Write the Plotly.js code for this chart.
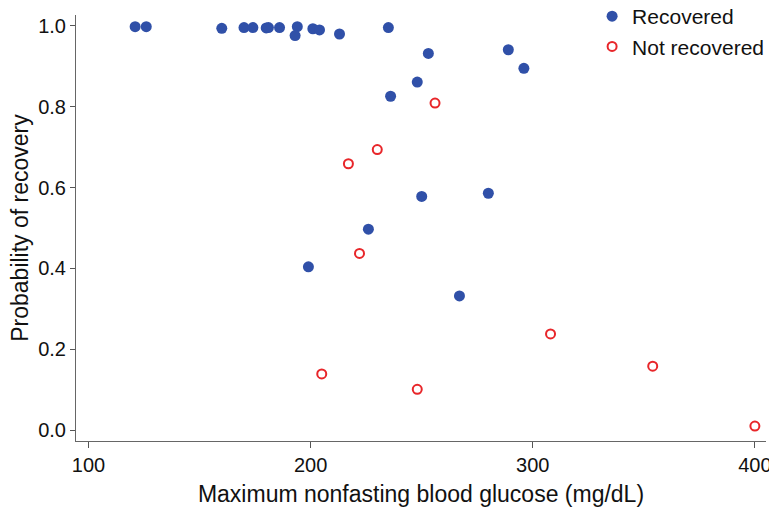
<!DOCTYPE html>
<html>
<head>
<meta charset="utf-8">
<script src="https://cdn.plot.ly/plotly-3.0.1.min.js"></script>
<style>html,body{margin:0;padding:0;background:#fff;}#chart{width:769px;height:508px;}</style>
</head>
<body>
<div id="chart"></div>
<script>
const recoveredGlucose = [121, 126, 160, 170, 174, 180, 181, 186, 194, 193, 201, 204, 213, 235, 236, 248, 253, 289, 296, 250, 280, 226, 199, 267];
const recoveredProb    = [0.998, 0.998, 0.994, 0.996, 0.996, 0.995, 0.996, 0.996, 0.998, 0.976, 0.993, 0.990, 0.980, 0.996, 0.826, 0.861, 0.932, 0.941, 0.895, 0.578, 0.586, 0.497, 0.404, 0.332];
const notRecoveredGlucose = [256, 230, 217, 222, 205, 248, 308, 354, 400];
const notRecoveredProb    = [0.809, 0.694, 0.659, 0.437, 0.139, 0.101, 0.238, 0.158, 0.010];
const xTicks = [100, 200, 300, 400];
const yTicks = [0.0, 0.2, 0.4, 0.6, 0.8, 1.0];

const font = 'Liberation Sans, Arial, sans-serif';
const traces = [
  {x: recoveredGlucose, y: recoveredProb, mode: 'markers', type: 'scatter', name: 'Recovered',
   marker: {color: '#3050a8', size: 11, line: {width: 0}}},
  {x: notRecoveredGlucose, y: notRecoveredProb, mode: 'markers', type: 'scatter', name: 'Not recovered',
   marker: {color: '#e8262a', size: 9, symbol: 'circle-open', line: {color: '#e8262a', width: 2}}}
];
const layout = {
  width: 769, height: 508,
  margin: {l: 76, r: 3, t: 15, b: 67, autoexpand: false},
  paper_bgcolor: '#fff', plot_bgcolor: '#fff',
  font: {family: font, color: '#111', size: 20},
  showlegend: true,
  legend: {x: 1.0045, xanchor: 'right', y: 1.0446, yanchor: 'top',
           font: {size: 21, color: '#111', family: font},
           bgcolor: 'rgba(0,0,0,0)', itemwidth: 30, tracegroupgap: 0},
  xaxis: {range: [94.37, 405], tickvals: xTicks, ticktext: xTicks.map(String), automargin: false,
          ticklabeloverflow: 'allow',
          showgrid: false, zeroline: false, showline: true, linecolor: '#666', linewidth: 1,
          ticks: 'outside', ticklen: 6, tickcolor: '#555', tickfont: {size: 20, family: font, color: '#111'},
          title: {text: '\u00a0\u00a0\u00a0\u00a0Maximum nonfasting blood glucose (mg/dL)', font: {size: 23, family: font, color: '#111'}, standoff: 10}},
  yaxis: {range: [-0.027, 1.027], tickvals: yTicks, ticktext: yTicks.map(v => v.toFixed(1)), automargin: false,
          showgrid: false, zeroline: false, showline: true, linecolor: '#666', linewidth: 1,
          ticks: 'outside', ticklen: 5, tickcolor: '#555', tickfont: {size: 20, family: font, color: '#111'},
          title: {text: 'Probability of recovery', font: {size: 23, family: font, color: '#111'}, standoff: 3}}
};
Plotly.newPlot('chart', traces, layout, {displayModeBar: false, staticPlot: true});
</script>
</body>
</html>
